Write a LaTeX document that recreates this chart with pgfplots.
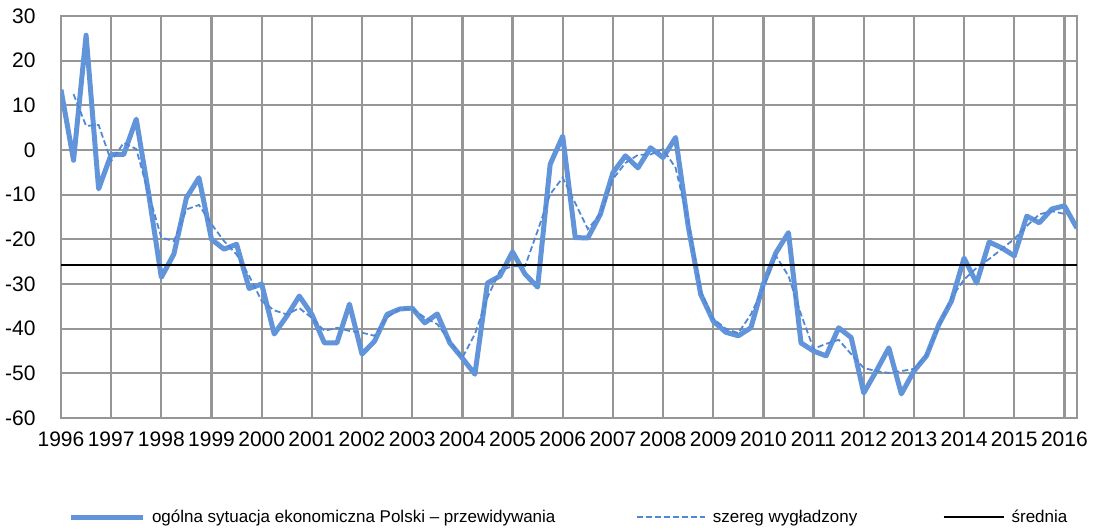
\documentclass[border=0pt]{standalone}
\usepackage{fontspec}
\setmainfont{Liberation Sans}
\usepackage{pgfplots}
\pgfplotsset{compat=1.18}
\usepackage{pgfplotstable}
\definecolor{gridgray}{RGB}{150,150,150}
\definecolor{mainblue}{RGB}{98,148,218}
\definecolor{dashblue}{RGB}{80,135,215}

\pgfplotstableread{
i v
0 13.5
1 -2.3
2 25.7
3 -8.7
4 -1
5 -1
6 6.9
7 -10
8 -28.5
9 -23.3
10 -10.7
11 -6.2
12 -20
13 -22.2
14 -21.1
15 -31
16 -30
17 -41.2
18 -37.2
19 -32.7
20 -36.8
21 -43.2
22 -43.2
23 -34.5
24 -45.7
25 -42.8
26 -36.8
27 -35.6
28 -35.4
29 -38.7
30 -36.7
31 -43.2
32 -46.6
33 -50.2
34 -29.8
35 -28.2
36 -22.8
37 -27.8
38 -30.7
39 -3.2
40 3.1
41 -19.6
42 -19.7
43 -14.4
44 -5.1
45 -1.3
46 -4.0
47 0.5
48 -1.7
49 2.8
50 -17
51 -32.3
52 -38.3
53 -40.8
54 -41.6
55 -39.8
56 -30
57 -23
58 -18.5
59 -43.2
60 -45
61 -46.1
62 -39.8
63 -42
64 -54.4
65 -49.5
66 -44.3
67 -54.6
68 -49.5
69 -46.1
70 -39
71 -33.8
72 -24.2
73 -29.8
74 -20.6
75 -21.9
76 -23.7
77 -14.8
78 -16.3
79 -13.2
80 -12.5
81 -17.5
}\mainseries

\pgfplotstableread{
i v
1 12.5
2 5.4
3 5.6
4 -2.5
5 1.6
6 0.2
7 -9.9
8 -19.6
9 -20.4
10 -13.3
11 -12.3
12 -16.6
13 -20.4
14 -23.4
15 -28.2
16 -33.8
17 -35.9
18 -36.8
19 -35.4
20 -37.6
21 -40.5
22 -39.8
23 -40.5
24 -40.9
25 -41.6
26 -37.5
27 -35.6
28 -35.6
29 -37.5
30 -39
31 -42.8
32 -46.5
33 -41.2
34 -33
35 -27
36 -26
37 -26
38 -18.1
39 -9.9
40 -6.2
41 -11.9
42 -17.7
43 -14.4
44 -6.5
45 -2.9
46 -1.1
47 -1
48 0.2
49 -4
50 -15.9
51 -31.6
52 -37.8
53 -40
54 -41
55 -36.8
56 -30.9
57 -23.7
58 -28.2
59 -36.8
60 -44.5
61 -43.4
62 -42.5
63 -45.7
64 -48.8
65 -49.5
66 -49.9
67 -49.5
68 -49
69 -46
70 -39.5
71 -33
72 -29
73 -26.4
74 -24.4
75 -22.2
76 -19.9
77 -17
78 -14.4
79 -13.7
80 -14.3
}\smoothseries

\begin{document}
\begin{tikzpicture}
\useasboundingbox (-61pt,-114pt) rectangle (1034pt,418pt);
\begin{axis}[
  at={(0pt,0pt)}, anchor=south west,
  scale only axis, width=1016pt, height=402pt,
  xmin=0, xmax=81, ymin=-60, ymax=30,
  xtick={0,4,...,80},
  xticklabels={1996,1997,1998,1999,2000,2001,2002,2003,2004,2005,2006,2007,2008,2009,2010,2011,2012,2013,2014,2015,2016},
  ytick={-60,-50,...,30},
  grid=major,
  major grid style={draw=gridgray, line width=2.3pt},
  axis line style={draw=gridgray, line width=2.3pt},
  tick style={draw=none},
  tick label style={font=\fontsize{21}{24}\selectfont},
  /pgf/number format/assume math mode=true,
  yticklabel style={xshift=-22pt},
  xticklabel style={yshift=-10pt},
  legend columns=3,
  legend style={at={(rel axis cs:0.0069,-0.2463)}, anchor=west, draw=none, fill=none,
    inner sep=0pt, outer sep=0pt, nodes={inner sep=0pt, outer sep=0pt},
    font=\fontsize{17}{20}\selectfont,
    /tikz/every odd column/.append style={column sep=7pt},
    /tikz/every even column/.append style={column sep=0pt}},
]
\addplot[mainblue, line width=5pt, line join=round,
  legend image code/.code={\draw[mainblue, line width=5pt] (0pt,0pt) -- (72pt,0pt);}]
  table[x=i, y=v] {\mainseries};
\addlegendentry{\makebox[484pt][l]{ogólna sytuacja ekonomiczna Polski – przewidywania}}
\addplot[dashblue, line width=1.8pt, dash pattern=on 6pt off 3pt,
  legend image code/.code={\draw[dashblue, line width=1.8pt, dash pattern=on 6pt off 3pt] (0pt,0pt) -- (68pt,0pt);}]
  table[x=i, y=v] {\smoothseries};
\addlegendentry{\makebox[230pt][l]{szereg wygładzony}}
\addplot[black, line width=1.8pt,
  legend image code/.code={\draw[black, line width=1.8pt] (0pt,0pt) -- (60pt,0pt);}]
  coordinates {(0,-25.7) (81,-25.7)};
\addlegendentry{średnia}
\end{axis}
\end{tikzpicture}
\end{document}
